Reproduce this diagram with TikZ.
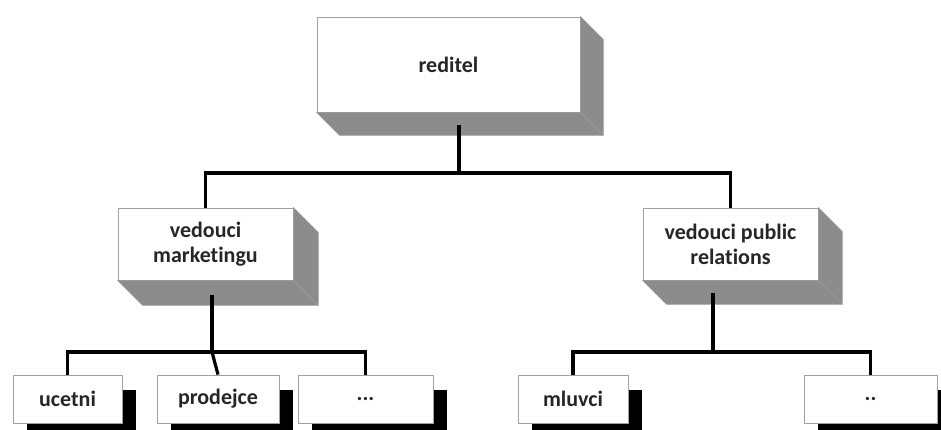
\documentclass[tikz,border=0pt]{standalone}
\usepackage{fontspec}
\setmainfont{Carlito}[Ligatures=NoCommon]
\usetikzlibrary{calc,shadows}
\definecolor{sidegray}{RGB}{140,140,140}
\definecolor{edgegray}{RGB}{160,160,160}
\tikzset{
  box/.style={draw=edgegray,line width=0.8pt,fill=white,align=center,inner sep=0pt,
    text=black!85,font=\bfseries\fontsize{22}{25}\selectfont},
  flatbox/.style={box,minimum height=48pt,
    drop shadow={shadow xshift=14pt,shadow yshift=-15pt,fill=black,opacity=1}},
  link/.style={line width=3.2pt,black}
}
% grey side and bottom faces behind a node: #1 node, #2 depth
\newcommand{\extrude}[2]{%
  \filldraw[fill=sidegray,draw=edgegray,line width=0.6pt]
    (#1.north east) -- ++(#2,#2) -- ($(#1.south east)+(#2,#2)$)
    -- ($(#1.south west)+(#2,#2)$) -- (#1.south west) -- (#1.south east) -- cycle;
  \draw[edgegray,line width=0.6pt] (#1.south east) -- ++(#2,#2);
}
\begin{document}
\begin{tikzpicture}[x=1pt,y=-1pt]
	\useasboundingbox (0,0) rectangle (941,430);
	\node[box,minimum width=263pt,minimum height=95pt] (reditel) at (448.5,64.5) {reditel};
	\node[box,minimum width=175pt,minimum height=72pt] (marketing) at (205.5,244) {vedouci\\marketingu};
	\node[box,minimum width=175pt,minimum height=72pt] (pr) at (730.5,244) {vedouci public\\relations};
	\extrude{reditel}{23}
	\extrude{marketing}{25}
	\extrude{pr}{24}
	\node[flatbox,minimum width=109pt] (ucetni) at (67.5,399) {ucetni};
	\node[flatbox,minimum width=122pt] (prodejce) at (218,399) {prodejce};
	\node[flatbox,minimum width=135pt] (etc) at (365.5,399) {...};
	\node[flatbox,minimum width=110pt] (mluvci) at (573,399) {mluvci};
	\node[flatbox,minimum width=133pt] (etcpr) at (870.5,399) {..};
	\coordinate (topjoin) at (459,173);
	\coordinate (mktjoin) at (212,352);
	\coordinate (prjoin) at (713,352);
	\draw[link] ([xshift=10.5pt,yshift=-13pt]reditel.south) -- (topjoin);
	\draw[link] (marketing.north) |- (topjoin) -| (pr.north);
	\draw[link] ([xshift=6.5pt,yshift=-15pt]marketing.south) -- (mktjoin);
	\draw[link] (ucetni.north) |- (mktjoin) -| (etc.north);
	\draw[link] (mktjoin) -- (prodejce.north);
	\draw[link] ([xshift=-17.5pt,yshift=-13pt]pr.south) -- (prjoin);
	\draw[link] (mluvci.north) |- (prjoin) -| (etcpr.north);
\end{tikzpicture}
\end{document}
